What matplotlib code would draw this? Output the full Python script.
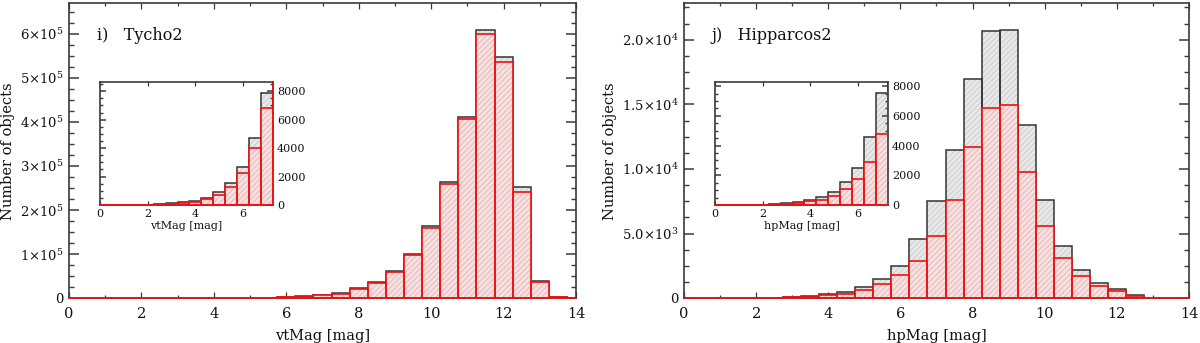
import matplotlib
matplotlib.use("Agg")
import matplotlib.pyplot as plt
from matplotlib.ticker import FixedLocator, MultipleLocator

plt.rcParams['font.family'] = ['DejaVu Serif']
plt.rcParams['mathtext.fontset'] = 'dejavuserif'
plt.rcParams['hatch.linewidth'] = 0.5

# ---------------- data ----------------
mag_centers = [0.0, 0.5, 1.0, 1.5, 2.0, 2.5, 3.0, 3.5, 4.0, 4.5, 5.0, 5.5, 6.0, 6.5, 7.0,
               7.5, 8.0, 8.5, 9.0, 9.5, 10.0, 10.5, 11.0, 11.5, 12.0, 12.5, 13.0, 13.5, 14.0]

tycho_all = [1, 3, 8, 15, 30, 70, 120, 190, 300, 510, 930, 1560, 2650, 4720, 7880,
             12900, 22700, 37000, 63000, 100700, 163000, 264000, 411000, 608000, 547000,
             252000, 39400, 3800, 0]
tycho_sel = [1, 2, 5, 10, 20, 50, 90, 140, 230, 400, 720, 1260, 2230, 3980, 6790,
             10600, 20400, 35000, 60000, 98500, 160000, 260000, 406000, 600000, 536000,
             242000, 36400, 3000, 0]

hip_all = [0, 1, 5, 12, 30, 60, 110, 180, 310, 510, 860, 1520, 2520, 4580, 7550,
           11500, 16970, 20680, 20740, 13380, 7620, 4030, 2210, 1150, 700,
           240, 50, 10, 5]
hip_sel = [0, 1, 3, 8, 20, 40, 80, 130, 245, 360, 630, 1100, 1770, 2900, 4800,
           7620, 11700, 14720, 14930, 9750, 5620, 3100, 1700, 930, 540,
           190, 40, 8, 3]

tycho_yticks = [0, 100000, 200000, 300000, 400000, 500000, 600000]
tycho_ylabels = ['0', '1×10$^{5}$', '2×10$^{5}$', '3×10$^{5}$',
                 '4×10$^{5}$', '5×10$^{5}$', '6×10$^{5}$']
hip_yticks = [0, 5000, 10000, 15000, 20000]
hip_ylabels = ['0', '5.0×10$^{3}$', '1.0×10$^{4}$', '1.5×10$^{4}$', '2.0×10$^{4}$']
inset_yticks = [0, 2000, 4000, 6000, 8000]
main_xticks = [0, 2, 4, 6, 8, 10, 12, 14]
inset_xticks = [0, 2, 4, 6]

# ---------------- style ----------------
AXC = '#3a3a3a'
BLK_EDGE = '#333333'
RED = '#ee1111'
GRAY_FILL = '#e8e8e8'
GRAY_HATCH = '#c4c4c4'
PINK_FILL = '#f6e0e0'
PINK_HATCH = '#e0abab'

W, H = 1200, 343
fig = plt.figure(figsize=(W / 100, H / 100), dpi=100)


def frac(x0, y0, x1, y1):
    return [x0 / W, 1 - y1 / H, (x1 - x0) / W, (y1 - y0) / H]


def draw_bars(ax, allv, selv):
    ax.bar(mag_centers, allv, width=0.5, facecolor=GRAY_FILL, edgecolor=GRAY_HATCH,
           hatch='//////', linewidth=0, zorder=2)
    ax.bar(mag_centers, allv, width=0.5, fill=False, edgecolor=BLK_EDGE,
           linewidth=1.1, zorder=3)
    ax.bar(mag_centers, selv, width=0.5, facecolor=PINK_FILL, edgecolor=PINK_HATCH,
           hatch='//////', linewidth=0, zorder=4)
    ax.bar(mag_centers, selv, width=0.5, fill=False, edgecolor=RED,
           linewidth=1.2, zorder=5)
    # histogram baseline (zero-count bins drawn in red, as in the original)
    ax.axhline(0, color=RED, linewidth=1.2, zorder=5, clip_on=False)


def style_axes(ax, ymaj_len, xmaj_len):
    ax.set_axisbelow(False)
    for s in ax.spines.values():
        s.set_color(AXC)
        s.set_linewidth(1.2)
        s.set_zorder(1)
    ax.tick_params(which='both', direction='in', top=True, right=True, color=AXC)
    ax.tick_params(axis='y', which='major', length=ymaj_len, width=1.1)
    ax.tick_params(axis='y', which='minor', length=ymaj_len / 2, width=1.0)
    ax.tick_params(axis='x', which='major', length=xmaj_len, width=0.9)
    ax.tick_params(axis='x', which='minor', length=xmaj_len / 2, width=0.9)


def main_panel(rect, allv, selv, yticks, ylabels, yminor, xlabel, title):
    ax = fig.add_axes(rect)
    draw_bars(ax, allv, selv)
    ax.set_xlim(0, 14)
    ax.set_ylim(0, 1.1 * max(allv))
    ax.xaxis.set_major_locator(FixedLocator(main_xticks))
    ax.xaxis.set_minor_locator(MultipleLocator(1))
    ax.yaxis.set_major_locator(FixedLocator(yticks))
    ax.set_yticklabels(ylabels)
    ax.yaxis.set_minor_locator(MultipleLocator(yminor))
    style_axes(ax, 7.0, 4.3)
    ax.tick_params(axis='both', which='major', colors=AXC, labelcolor='#111111')
    ax.tick_params(axis='x', pad=6, labelsize=10.5)
    ax.tick_params(axis='y', pad=4, labelsize=9.5)
    ax.set_xlabel(xlabel, fontsize=10.5, color='#111111')
    ax.xaxis.set_label_coords(0.5, -0.105)
    ax.set_ylabel('Number of objects', fontsize=10.5, color='#111111')
    ax.text(0.055, 0.89, title, transform=ax.transAxes, fontsize=11.5,
            va='center', ha='left', color='#111111')
    return ax


def inset_panel(rect, allv, selv, xlabel):
    ax = fig.add_axes(rect)
    draw_bars(ax, allv, selv)
    ax.set_xlim(0, 7.25)
    inset_vals = [v for c, v in zip(mag_centers, allv) if c <= 7.0]
    ax.set_ylim(0, 1.1 * max(inset_vals))
    ax.xaxis.set_major_locator(FixedLocator(inset_xticks))
    ax.yaxis.set_major_locator(FixedLocator(inset_yticks))
    ax.yaxis.set_minor_locator(MultipleLocator(500))
    style_axes(ax, 4.5, 3.0)
    ax.tick_params(axis='y', which='both', labelleft=False, labelright=True)
    ax.tick_params(axis='both', which='major', labelsize=8, colors=AXC,
                   labelcolor='#111111', pad=3)
    ax.set_xlabel(xlabel, fontsize=8, color='#111111', labelpad=1)
    return ax


ax1 = main_panel(frac(69, 3.3, 576, 298.3), tycho_all, tycho_sel, tycho_yticks,
                 tycho_ylabels, 25000, 'vtMag [mag]', 'i)   Tycho2')
ax1.yaxis.set_label_coords(-0.106, 0.5)
ax2 = main_panel(frac(684, 3.3, 1189, 298.3), hip_all, hip_sel, hip_yticks,
                 hip_ylabels, 1250, 'hpMag [mag]', 'j)   Hipparcos2')
ax2.yaxis.set_label_coords(-0.132, 0.5)

in1 = inset_panel(frac(100, 81.7, 273, 205), tycho_all, tycho_sel, 'vtMag [mag]')
in2 = inset_panel(frac(715, 81.7, 888, 205), hip_all, hip_sel, 'hpMag [mag]')

fig.savefig('out.png', dpi=100)
